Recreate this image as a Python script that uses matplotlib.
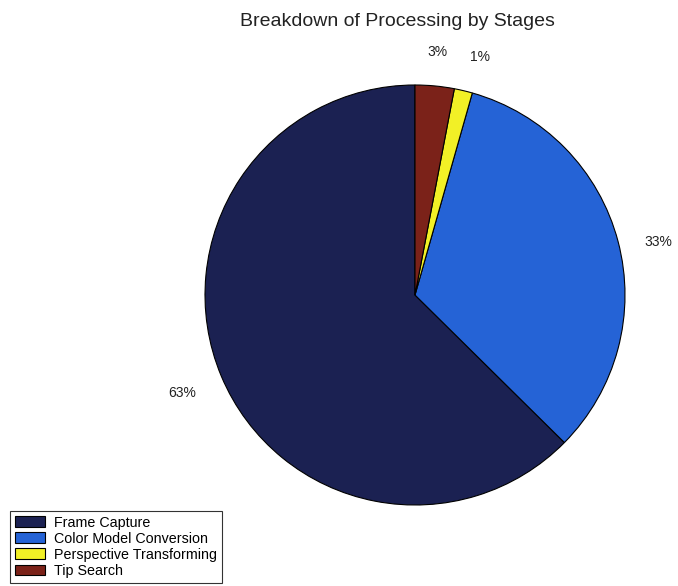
import matplotlib
matplotlib.use('Agg')
from matplotlib import pyplot as plt

plt.rcParams['font.family'] = ['Liberation Sans', 'DejaVu Sans']

# data
stages = ['Frame Capture', 'Color Model Conversion', 'Perspective Transforming', 'Tip Search']
shares = [62.6, 33.0, 1.4, 3.0]
pct_labels = ['63%', '33%', '1%', '3%']
colors = ['#1b2152', '#2563d6', '#f2f026', '#7b2219']

fig = plt.figure(figsize=(6.78, 5.86), dpi=100)
ax = fig.add_axes([205/678, 81/586, 420/678, 420/586])

wedges, texts = ax.pie(shares, labels=pct_labels, colors=colors, startangle=90,
                       counterclock=True, labeldistance=1.13,
                       wedgeprops=dict(edgecolor='black', linewidth=0.8),
                       textprops=dict(fontsize=10, color='#222222'))
# label alignment roughly like the original
texts[0].set_va('top')
texts[1].set_va('top')
texts[2].set_va('bottom')
texts[3].set_va('bottom')
texts[3].set_ha('center')

ax.set_xlim(-1, 1)
ax.set_ylim(-1, 1)
ax.set_aspect('equal')
ax.axis('off')

fig.text(397/678, 1 - 22/586, 'Breakdown of Processing by Stages', ha='center', va='center',
         fontsize=14, color='#222222')

leg = fig.legend(wedges, stages, loc='lower left', bbox_to_anchor=(10/678, 3/586),
                 fontsize=10.3, frameon=True, fancybox=False, edgecolor='black',
                 handlelength=2.1, handleheight=0.8, handletextpad=0.6,
                 labelspacing=0.15, borderpad=0.35, borderaxespad=0)
leg.get_frame().set_linewidth(0.8)

plt.savefig('out.png', dpi=100)
